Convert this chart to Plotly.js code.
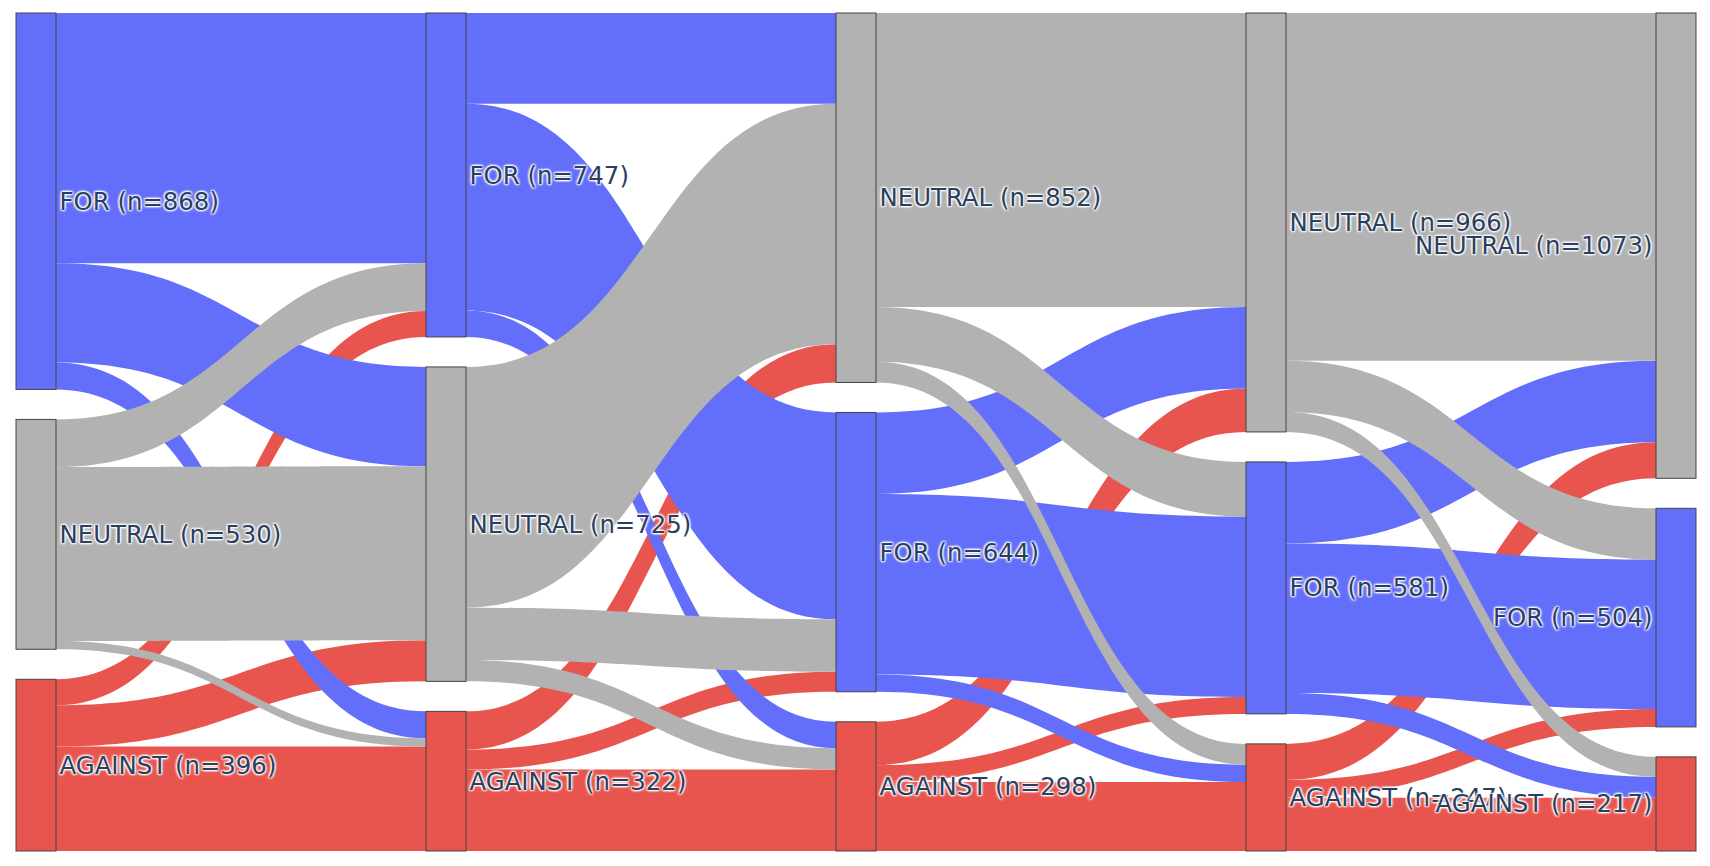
<!DOCTYPE html>
<html>
<head>
<meta charset="utf-8">
<script src="https://cdn.plot.ly/plotly-3.0.1.min.js"></script>
<style>html,body{margin:0;padding:0;background:#fff;}#chart{width:1710px;height:866px;}</style>
</head>
<body>
<div id="chart"></div>
<script>
// Categories and stages
const categories = ["FOR", "NEUTRAL", "AGAINST"];
const stages = [1, 2, 3, 4, 5];

// Transition counts: rows = source category (FOR, NEUTRAL, AGAINST), cols = target category (FOR, NEUTRAL, AGAINST)
const flows_1_2 = [[577, 229, 62], [110, 401, 19], [60, 95, 241]];
const flows_2_3 = [[477, 209, 61], [121, 555, 49], [46, 88, 188]];
const flows_3_4 = [[416, 188, 40], [126, 678, 48], [39, 100, 159]];
const flows_4_5 = [[345, 188, 48], [118, 802, 46], [41, 83, 123]];

const categoryColors = {"FOR": "#636EFA", "NEUTRAL": "#B2B2B2", "AGAINST": "#E8554E"};
// links are listed with source categories in alphabetical order (drawing order)
const linkSourceOrder = ["AGAINST", "FOR", "NEUTRAL"];

const allFlows = [flows_1_2, flows_2_3, flows_3_4, flows_4_5];
const nCat = categories.length;
const nodeIndex = (stage, c) => stage * nCat + c;

const source = [], target = [], value = [], linkColor = [];
const totals = new Array(stages.length * nCat).fill(0);
allFlows.forEach((m, s) => {
  linkSourceOrder.forEach(name => {
    const i = categories.indexOf(name);
    m[i].forEach((v, j) => {
      source.push(nodeIndex(s, i));
      target.push(nodeIndex(s + 1, j));
      value.push(v);
      linkColor.push(categoryColors[categories[i]]);
      if (s === 0) totals[nodeIndex(s, i)] += v;
      totals[nodeIndex(s + 1, j)] += v;
    });
  });
});

const labels = [], nodeColors = [];
stages.forEach((st, s) => {
  categories.forEach((c, i) => {
    labels.push(c + " (n=" + totals[nodeIndex(s, i)] + ")");
    nodeColors.push(categoryColors[c]);
  });
});

const halo = "1px 1px 2px #fff, -1px -1px 2px #fff, 1px -1px 2px #fff, -1px 1px 2px #fff";

const data = [{
  type: "sankey",
  orientation: "h",
  node: {
    label: labels,
    color: nodeColors,
    pad: 30,
    thickness: 40,
    line: {color: "#444", width: 1}
  },
  link: {source: source, target: target, value: value, color: linkColor},
  textfont: {family: "DejaVu Sans", size: 24.4, color: "#2a3f5f", shadow: halo}
}];

const layout = {
  width: 1710, height: 866,
  margin: {l: 16, r: 14, t: 13, b: 15},
  paper_bgcolor: "#fff",
  font: {family: "DejaVu Sans", size: 24.4, color: "#2a3f5f"}
};

Plotly.newPlot("chart", data, layout, {displayModeBar: false});
</script>
</body>
</html>
